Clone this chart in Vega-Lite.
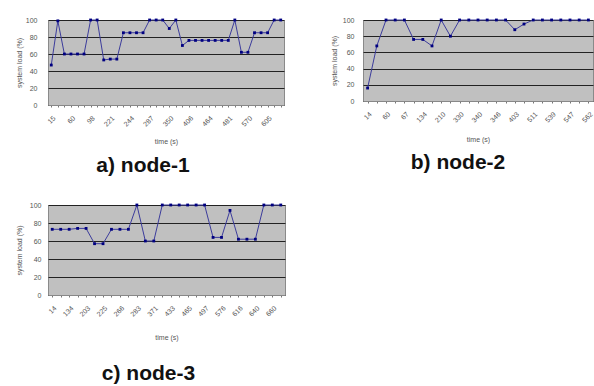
{
  "$schema": "https://vega.github.io/schema/vega-lite/v6.json",
  "padding": {"left": 14, "top": 15, "right": 0, "bottom": 0},
  "background": "white",
  "config": {
    "font": "Liberation Sans",
    "view": {"fill": "#c0c0c0", "stroke": "#8a8a8a", "strokeWidth": 1},
    "axis": {"labelFont": "Liberation Sans", "labelFontSize": 7, "labelColor": "#555", "titleFont": "Liberation Sans", "titleFontSize": 7, "titleFontWeight": "normal", "titleColor": "#555"},
    "title": {"font": "Liberation Sans", "fontSize": 21, "fontWeight": "bold", "color": "#111", "orient": "bottom", "offset": 8}
  },
  "datasets": {
    "n1": [
      {"t": 15, "load": 47}, {"t": 30, "load": 99}, {"t": 45, "load": 60}, {"t": 60, "load": 60},
      {"t": 73, "load": 60}, {"t": 86, "load": 60}, {"t": 98, "load": 100}, {"t": 139, "load": 100},
      {"t": 180, "load": 53}, {"t": 221, "load": 54}, {"t": 229, "load": 54}, {"t": 236, "load": 85},
      {"t": 244, "load": 85}, {"t": 258, "load": 85}, {"t": 272, "load": 85}, {"t": 287, "load": 100},
      {"t": 308, "load": 100}, {"t": 329, "load": 100}, {"t": 350, "load": 90}, {"t": 369, "load": 100},
      {"t": 387, "load": 70}, {"t": 406, "load": 76}, {"t": 425, "load": 76}, {"t": 444, "load": 76},
      {"t": 464, "load": 76}, {"t": 470, "load": 76}, {"t": 475, "load": 76}, {"t": 481, "load": 76},
      {"t": 511, "load": 100}, {"t": 540, "load": 62}, {"t": 570, "load": 62}, {"t": 582, "load": 85},
      {"t": 593, "load": 85}, {"t": 605, "load": 85}, {"t": 620, "load": 100}, {"t": 635, "load": 100}
    ],
    "n2": [
      {"t": 14, "load": 16}, {"t": 37, "load": 68}, {"t": 60, "load": 100}, {"t": 63, "load": 100},
      {"t": 67, "load": 100}, {"t": 100, "load": 76}, {"t": 134, "load": 76}, {"t": 172, "load": 68},
      {"t": 210, "load": 100}, {"t": 270, "load": 80}, {"t": 330, "load": 100}, {"t": 335, "load": 100},
      {"t": 340, "load": 100}, {"t": 343, "load": 100}, {"t": 346, "load": 100}, {"t": 375, "load": 100},
      {"t": 403, "load": 88}, {"t": 457, "load": 95}, {"t": 511, "load": 100}, {"t": 525, "load": 100},
      {"t": 539, "load": 100}, {"t": 543, "load": 100}, {"t": 547, "load": 100}, {"t": 555, "load": 100},
      {"t": 562, "load": 100}
    ],
    "n3": [
      {"t": 14, "load": 73}, {"t": 74, "load": 73}, {"t": 134, "load": 73}, {"t": 170, "load": 74},
      {"t": 203, "load": 74}, {"t": 214, "load": 57}, {"t": 225, "load": 57}, {"t": 245, "load": 73},
      {"t": 266, "load": 73}, {"t": 275, "load": 73}, {"t": 283, "load": 100}, {"t": 327, "load": 60},
      {"t": 371, "load": 60}, {"t": 402, "load": 100}, {"t": 433, "load": 100}, {"t": 449, "load": 100},
      {"t": 465, "load": 100}, {"t": 481, "load": 100}, {"t": 497, "load": 100}, {"t": 536, "load": 64},
      {"t": 576, "load": 64}, {"t": 596, "load": 94}, {"t": 616, "load": 62}, {"t": 628, "load": 62},
      {"t": 640, "load": 62}, {"t": 650, "load": 100}, {"t": 660, "load": 100}, {"t": 670, "load": 100}
    ]
  },
  "vconcat": [
    {
      "hconcat": [
        {
          "data": {"name": "n1"},
          "width": 236, "height": 85,
          "title": {"text": "a) node-1", "dx": -23, "offset": 11},
          "encoding": {
            "x": {"field": "t", "type": "ordinal", "scale": {"paddingInner": 0, "paddingOuter": 0},
              "axis": {"title": "time (s)", "labelAngle": -45, "labelOverlap": false, "labelPadding": 7, "tickSize": 2, "tickColor": "#777", "domainColor": "#888", "titlePadding": 10,
                "labelExpr": "(datum.value==15||datum.value==60||datum.value==98||datum.value==221||datum.value==244||datum.value==287||datum.value==350||datum.value==406||datum.value==464||datum.value==481||datum.value==570||datum.value==605) ? datum.label : ''"}},
            "y": {"field": "load", "type": "quantitative", "scale": {"domain": [0, 100]},
              "axis": {"title": "system load (%)", "values": [0, 20, 40, 60, 80, 100], "ticks": false, "domain": false, "labelPadding": 11, "titlePadding": 3, "gridColor": "#222", "gridOpacity": 1}}
          },
          "layer": [
            {"mark": {"type": "line", "color": "#3c3c9c", "strokeWidth": 1}},
            {"mark": {"type": "point", "shape": "square", "filled": true, "size": 8, "color": "#000080", "opacity": 1}}
          ]
        },
        {
          "data": {"name": "n2"},
          "width": 230, "height": 81,
          "title": {"text": "b) node-2", "dx": -20, "offset": 10},
          "encoding": {
            "x": {"field": "t", "type": "ordinal", "scale": {"paddingInner": 0, "paddingOuter": 0},
              "axis": {"title": "time (s)", "labelAngle": -45, "labelOverlap": false, "labelPadding": 7, "tickSize": 2, "tickColor": "#777", "domainColor": "#888", "titlePadding": 12,
                "labelExpr": "(datum.value==14||datum.value==60||datum.value==67||datum.value==134||datum.value==210||datum.value==330||datum.value==340||datum.value==346||datum.value==403||datum.value==511||datum.value==539||datum.value==547||datum.value==562) ? datum.label : ''"}},
            "y": {"field": "load", "type": "quantitative", "scale": {"domain": [0, 100]},
              "axis": {"title": "system load (%)", "values": [0, 20, 40, 60, 80, 100], "ticks": false, "domain": false, "labelPadding": 9, "titlePadding": 5, "gridColor": "#222", "gridOpacity": 1}}
          },
          "layer": [
            {"mark": {"type": "line", "color": "#3c3c9c", "strokeWidth": 1}},
            {"mark": {"type": "point", "shape": "square", "filled": true, "size": 8, "color": "#000080", "opacity": 1}}
          ]
        }
      ],
      "spacing": 42
    },
    {
      "data": {"name": "n3"},
      "width": 237, "height": 90,
      "title": {"text": "c) node-3", "dx": -18, "offset": 23},
      "encoding": {
        "x": {"field": "t", "type": "ordinal", "scale": {"paddingInner": 0, "paddingOuter": 0},
          "axis": {"title": "time (s)", "labelAngle": -45, "labelOverlap": false, "labelPadding": 7, "tickSize": 2, "tickColor": "#777", "domainColor": "#888", "titlePadding": 16,
            "labelExpr": "(datum.value==14||datum.value==134||datum.value==203||datum.value==225||datum.value==266||datum.value==283||datum.value==371||datum.value==433||datum.value==465||datum.value==497||datum.value==576||datum.value==616||datum.value==640||datum.value==660) ? datum.label : ''"}},
        "y": {"field": "load", "type": "quantitative", "scale": {"domain": [0, 100]},
          "axis": {"title": "system load (%)", "values": [0, 20, 40, 60, 80, 100], "ticks": false, "domain": false, "labelPadding": 7, "titlePadding": 7, "gridColor": "#222", "gridOpacity": 1}}
      },
      "layer": [
        {"mark": {"type": "line", "color": "#3c3c9c", "strokeWidth": 1}},
        {"mark": {"type": "point", "shape": "square", "filled": true, "size": 8, "color": "#000080", "opacity": 1}}
      ]
    }
  ],
  "spacing": 23
}
